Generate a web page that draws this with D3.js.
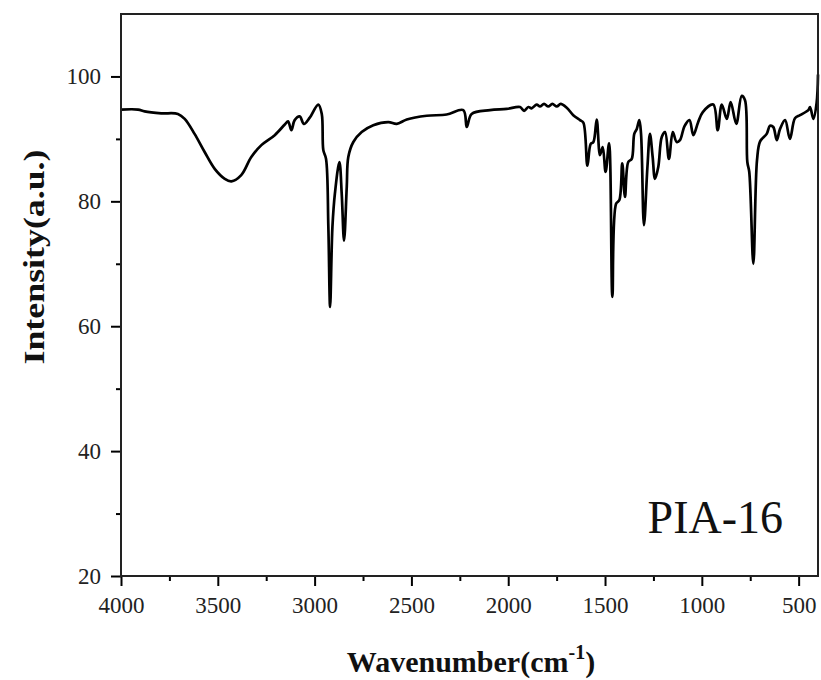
<!DOCTYPE html>
<html>
<head>
<meta charset="utf-8">
<script src="https://cdn.jsdelivr.net/npm/d3@7"></script>
<style>
  html, body { margin: 0; padding: 0; background: #fff; }
  #chart { width: 821px; height: 680px; }
  text { font-family: "Liberation Serif", "Times New Roman", serif; }
</style>
</head>
<body>
<div id="chart"></div>
<script>
// FTIR spectrum
const wavenumbers = [
    4000, 3912, 3878, 3792, 3706, 3671, 3620, 3568, 3516, 3464, 3430, 3379, 3327, 3275, 3206, 3154,
    3137, 3120, 3103, 3077, 3055, 3025, 2981, 2963, 2955, 2941, 2929, 2920, 2908, 2895, 2872, 2860,
    2848, 2834, 2826, 2800, 2757, 2697, 2619, 2576, 2524, 2421, 2318, 2232, 2214, 2189, 2094, 2008,
    1939, 1918, 1896, 1879, 1853, 1836, 1815, 1793, 1772, 1749, 1729, 1698, 1664, 1629, 1612, 1591,
    1574, 1560, 1543, 1526, 1512, 1497, 1479, 1462, 1443, 1426, 1411, 1397, 1380, 1362, 1349, 1336,
    1323, 1314, 1299, 1281, 1268, 1254, 1242, 1225, 1207, 1190, 1170, 1150, 1130, 1113, 1090, 1064,
    1044, 1020, 995, 941, 918, 897, 871, 851, 822, 794, 777, 765, 755, 734, 715, 699,
    665, 648, 631, 613, 596, 570, 545, 519, 493, 450, 441, 424, 407, 400
];
const intensities = [
    94.7, 94.7, 94.4, 94.1, 94.0, 93.2, 90.8, 87.9, 85.2, 83.6, 83.2, 84.2, 87.1, 89.0, 90.6, 92.3,
    92.8, 91.4, 93.0, 93.6, 92.4, 93.4, 95.5, 94.0, 88.2, 86.8, 75.9, 63.1, 75.9, 81.3, 86.3, 81.2,
    73.7, 82.3, 87.1, 89.5, 91.1, 92.2, 92.7, 92.4, 93.1, 93.7, 93.9, 94.6, 91.9, 94.0, 94.6, 94.8,
    95.1, 94.5, 95.1, 94.9, 95.5, 95.2, 95.6, 95.2, 95.6, 95.2, 95.6, 95.0, 93.8, 93.0, 92.6, 85.7,
    89.2, 89.5, 93.1, 87.4, 88.7, 84.7, 89.3, 64.7, 79.6, 80.2, 86.1, 80.7, 86.3, 86.8, 90.8, 91.6,
    93.0, 90.8, 76.2, 85.5, 90.8, 87.1, 83.6, 85.5, 90.3, 91.1, 86.8, 91.1, 89.5, 89.8, 92.0, 93.0,
    90.6, 92.6, 94.3, 95.5, 91.4, 95.5, 93.2, 95.9, 92.4, 96.9, 96.2, 86.3, 84.7, 70.0, 86.6, 89.6,
    90.8, 92.1, 91.9, 89.8, 91.6, 93.0, 90.0, 93.3, 93.8, 94.6, 95.1, 93.2, 95.8, 100.3
];
const xTicks = [4000, 3500, 3000, 2500, 2000, 1500, 1000, 500];
const yTicks = [20, 40, 60, 80, 100];
const sampleLabel = "PIA-16";

document.addEventListener("DOMContentLoaded", () => {
    const margin = { top: 14, right: 3, bottom: 104, left: 121 };
    const width = 821 - margin.left - margin.right;
    const height = 680 - margin.top - margin.bottom;
    const serif = "'Liberation Serif', 'Times New Roman', serif";

    const svg = d3
        .select("#chart")
        .append("svg")
        .attr("width", width + margin.left + margin.right)
        .attr("height", height + margin.top + margin.bottom)
        .append("g")
        .attr("transform", `translate(${margin.left},${margin.top})`);

    const data = wavenumbers.map((w, i) => ({ w, v: intensities[i] }));

    // Scales (wavenumber runs right to left)
    const xScale = d3.scaleLinear().domain([4000, 400]).range([0, width]);
    const yScale = d3.scaleLinear().domain([20, 110]).range([height, 0]);

    // minor ticks first, then major ones with labels
    const xMinor = d3.range(3750, 400, -500);
    const yMinor = d3.range(30, 110, 20);

    svg.append("g")
        .attr("transform", `translate(0,${height})`)
        .call(d3.axisBottom(xScale).tickValues(xMinor).tickSize(5).tickFormat(""))
        .call(g => g.select(".domain").remove())
        .selectAll("line").attr("stroke-width", 2);

    svg.append("g")
        .call(d3.axisLeft(yScale).tickValues(yMinor).tickSize(5).tickFormat(""))
        .call(g => g.select(".domain").remove())
        .selectAll("line").attr("stroke-width", 2);

    const xAxis = svg.append("g")
        .attr("transform", `translate(0,${height})`)
        .attr("font-family", serif)
        .call(d3.axisBottom(xScale).tickValues(xTicks).tickFormat(d3.format("d"))
            .tickSize(10).tickPadding(11).tickSizeOuter(0));
    xAxis.attr("font-family", serif);
    xAxis.select(".domain").remove();
    xAxis.selectAll("line").attr("stroke-width", 2);
    xAxis.selectAll("text").style("font-family", serif).style("font-size", "23px").attr("fill", "#222");

    const yAxis = svg.append("g")
        .call(d3.axisLeft(yScale).tickValues(yTicks).tickSize(10).tickPadding(10).tickSizeOuter(0));
    yAxis.attr("font-family", serif);
    yAxis.select(".domain").remove();
    yAxis.selectAll("line").attr("stroke-width", 2);
    yAxis.selectAll("text").style("font-family", serif).style("font-size", "23px").attr("fill", "#222");

    // Spectrum
    const line = d3.line()
        .x(d => xScale(d.w))
        .y(d => yScale(d.v))
        .curve(d3.curveCatmullRom.alpha(0.5));

    svg.append("path")
        .datum(data)
        .attr("fill", "none")
        .attr("stroke", "#000")
        .attr("stroke-width", 2.7)
        .attr("stroke-linejoin", "round")
        .attr("d", line);

    // Frame
    svg.append("rect")
        .attr("x", 0)
        .attr("y", 0)
        .attr("width", width)
        .attr("height", height)
        .attr("fill", "none")
        .attr("stroke", "#222")
        .attr("stroke-width", 2);

    // Sample label
    svg.append("text")
        .attr("x", 783 - margin.left)
        .attr("y", yScale(26.9))
        .attr("text-anchor", "end")
        .style("font-size", "46px")
        .attr("fill", "#111")
        .text(sampleLabel);

    // X-axis label
    const xLabel = svg.append("text")
        .attr("x", 471 - margin.left)
        .attr("y", height + 96)
        .attr("text-anchor", "middle")
        .style("font-size", "30px")
        .style("font-weight", "bold")
        .attr("fill", "#111");
    xLabel.append("tspan").text("Wavenumber(cm");
    xLabel.append("tspan").attr("dy", -13).style("font-size", "20px").text("-1");
    xLabel.append("tspan").attr("dy", 13).text(")");

    // Y-axis label
    svg.append("text")
        .attr("transform", "rotate(-90)")
        .attr("x", -(257 - margin.top))
        .attr("y", -77)
        .attr("text-anchor", "middle")
        .attr("textLength", 215)
        .attr("lengthAdjust", "spacingAndGlyphs")
        .style("font-size", "30px")
        .style("font-weight", "bold")
        .attr("fill", "#111")
        .text("Intensity(a.u.)");
});
</script>
</body>
</html>
